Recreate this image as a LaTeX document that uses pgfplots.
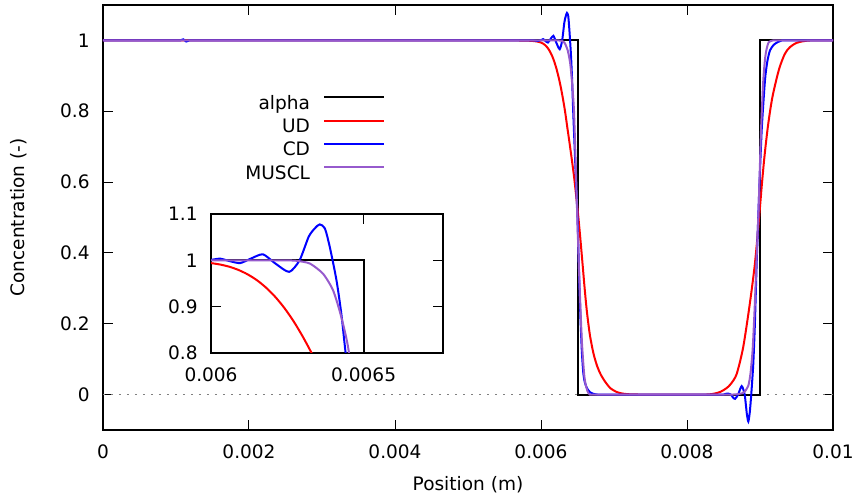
\documentclass[border=0pt]{standalone}
\usepackage{pgfplots}
\usepackage{pgfplotstable}
\pgfplotsset{compat=1.18}
\usepackage{fontspec}
\setmainfont{DejaVu Sans}
\definecolor{muscl}{RGB}{150,90,205}
\definecolor{udred}{RGB}{255,0,0}
\definecolor{cdblue}{RGB}{0,0,255}
\newcommand{\fs}{\fontsize{9.3}{11}\selectfont}

\pgfplotstableread{
x y
0 1
0.0065 1
0.0065 0
0.009 0
0.009 1
0.01 1
}\alphadata

\pgfplotstableread{
x y
0 1
0.002 1
0.004 1
0.005 1
0.0054 1
0.0056 0.9999
0.0058 0.9995
0.0059 0.9982
0.00594 0.9971
0.00597 0.9958
0.0060 0.994
0.00603 0.9909
0.00606 0.9862
0.00609 0.9792
0.00612 0.9697
0.00615 0.9573
0.00618 0.9412
0.00621 0.9214
0.00624 0.8974
0.00627 0.869
0.0063 0.836
0.00633 0.799
0.00636 0.755
0.00639 0.712
0.00642 0.667
0.00645 0.620
0.00648 0.565
0.00651 0.505
0.00654 0.438
0.00657 0.367
0.0066 0.295
0.00663 0.232
0.00667 0.168
0.00672 0.115
0.00677 0.080
0.00682 0.056
0.00688 0.036
0.00695 0.018
0.00703 0.008
0.0071 0.0035
0.0072 0.001
0.0074 0.0
0.0077 0.0
0.0080 0.0
0.0082 0.0
0.0083 0.0005
0.00838 0.003
0.00846 0.008
0.00854 0.018
0.0086 0.030
0.00868 0.058
0.00877 0.134
0.00886 0.256
0.00893 0.369
0.00898 0.48
0.00902 0.58
0.00906 0.67
0.00911 0.76
0.00917 0.84
0.00926 0.918
0.00934 0.962
0.00941 0.981
0.0095 0.993
0.0096 0.998
0.0097 1.0
0.0099 1.0
0.01 1.0
}\uddata

\pgfplotstableread{
x y
0 1
0.0005 1
0.0009 1
0.0010 1
0.00106 1
0.00110 1.003
0.00114 0.997
0.00118 1
0.00124 1
0.0013 1
0.0015 1
0.002 1
0.003 1
0.004 1
0.005 1
0.0055 1
0.0058 1
0.0059 1
0.00596 0.9985
0.0060 1.001
0.00603 1.0036
0.00606 0.9985
0.006095 0.994
0.00613 1.0036
0.00617 1.013
0.00621 0.9935
0.006256 0.975
0.00629 1.0
0.00632 1.051
0.00634 1.069
0.006356 1.0776
0.006373 1.069
0.006389 1.029
0.006411 0.957
0.006427 0.884
0.006441 0.80
0.00647 0.65
0.0065 0.50
0.00652 0.35
0.00654 0.22
0.00656 0.12
0.00658 0.06
0.0066 0.035
0.00663 0.018
0.00667 0.007
0.00672 0.002
0.00678 0.0
0.00686 0.0
0.0070 0.0
0.0072 0.0
0.0075 0.0
0.0080 0.0
0.0083 0.0
0.0084 0.0
0.00846 0.0
0.0085 0.0
0.00853 0.002
0.00856 0.003
0.0086 0.0
0.00863 -0.008
0.008658 -0.012
0.0087 0.0
0.008749 0.024
0.00879 0.0
0.00882 -0.055
0.00884 -0.076
0.00886 -0.05
0.00888 0.0
0.008908 0.087
0.00893 0.2
0.008954 0.369
0.008986 0.557
0.009023 0.746
0.009068 0.887
0.0091 0.94
0.009137 0.972
0.00919 0.988
0.00925 0.996
0.0093 1.0
0.0094 1.0
0.0096 1.0
0.0099 1.0
0.01 1.0
}\cddata

\pgfplotstableread{
x y
0 1
0.003 1
0.005 1
0.0058 1
0.0061 1
0.0062 1
0.00624 1
0.00628 0.999
0.006324 0.993
0.006367 0.971
0.0064 0.935
0.006427 0.877
0.006452 0.80
0.00648 0.62
0.0065 0.48
0.00653 0.30
0.00656 0.15
0.00659 0.06
0.00661 0.03
0.00664 0.008
0.00667 0.0
0.00672 0.0
0.0068 0.0
0.0069 0.0
0.0071 0.0
0.0075 0.0
0.0080 0.0
0.0083 0.0
0.0085 0.0
0.0086 0.0
0.00866 0.0005
0.00872 0.002
0.00876 0.004
0.00879 0.008
0.00884 0.025
0.00887 0.06
0.0089 0.13
0.00893 0.26
0.00896 0.42
0.00898 0.52
0.009014 0.746
0.009045 0.887
0.00907 0.95
0.00909 0.975
0.00912 0.995
0.00918 1.0
0.0093 1.0
0.0095 1.0
0.0099 1.0
0.01 1.0
}\muscldata

\begin{document}
\begin{tikzpicture}
\useasboundingbox (-51.5bp,-35bp) rectangle (378.5bp,215bp);
\begin{axis}[
  at={(0,0)}, anchor=south west,
  scale only axis, width=365bp, height=212.5bp,
  xmin=0, xmax=0.01, ymin=-0.1, ymax=1.1,
  scaled ticks=false,
  xtick={0,0.002,0.004,0.006,0.008,0.01},
  xticklabels={0,0.002,0.004,0.006,0.008,0.01},
  ytick={0,0.2,0.4,0.6,0.8,1},
  yticklabels={0,0.2,0.4,0.6,0.8,1},
  /pgf/number format/assume math mode=true,
  tick align=inside, major tick length=5bp,
  tick style={black, line width=0.5bp},
  axis line style={line width=0.6bp},
  xticklabel style={font=\fs, anchor=center, inner sep=0pt, yshift=-11bp},
  yticklabel style={font=\fs, anchor=east, inner sep=0pt, xshift=-6.5bp},
  label style={font=\fs},
  xlabel={Position (m)}, ylabel={Concentration (-)},
  xlabel style={at={(axis description cs:0.5,-0.1294)}, anchor=center},
  ylabel style={at={(axis description cs:-0.1158,0.5)}, anchor=center},
  legend plot pos=right,
  legend cell align=right,
  legend style={draw=none, fill=none, font=\fs, inner sep=0pt, outer sep=0pt,
    at={(axis description cs:0.3863,0.7880)}, anchor=north east,
    column sep=6.5bp, row sep=2.7bp,
    nodes={inner sep=0pt, text height=7bp, text depth=2bp}},
  legend image code/.code={\draw[#1] (0bp,0.35em) -- (30bp,0.35em);},
  every axis plot/.append style={line width=1bp},
]
\addplot[gray, line width=0.6bp, dash pattern=on 0.8bp off 3.2bp, forget plot] coordinates {(0,0) (0.01,0)};
\addplot[black] table {\alphadata};
\addlegendentry{alpha}
\addplot[udred, smooth, tension=0.45] table {\uddata};
\addlegendentry{UD}
\addplot[cdblue, smooth, tension=0.4] table {\cddata};
\addlegendentry{CD}
\addplot[muscl, smooth, tension=0.4] table {\muscldata};
\addlegendentry{MUSCL}
\end{axis}
\begin{axis}[
  at={(54bp,38.5bp)}, anchor=south west,
  scale only axis, width=116bp, height=69.5bp,
  xmin=0.006, xmax=0.00676, ymin=0.8, ymax=1.1,
  scaled ticks=false,
  xtick={0.006,0.0065}, xticklabels={0.006,0.0065},
  ytick={0.8,0.9,1,1.1}, yticklabels={0.8,0.9,1,1.1},
  /pgf/number format/assume math mode=true,
  tick align=inside, major tick length=5bp,
  tick style={black, line width=0.5bp},
  axis line style={line width=0.6bp},
  axis background/.style={fill=white},
  xticklabel style={font=\fs, anchor=center, inner sep=0pt, yshift=-11bp},
  yticklabel style={font=\fs, anchor=east, inner sep=0pt, xshift=-6.5bp},
  every axis plot/.append style={line width=1bp},
  clip=true,
]
\addplot[black] table {\alphadata};
\addplot[udred, smooth, tension=0.45] table {\uddata};
\addplot[cdblue, smooth, tension=0.4] table {\cddata};
\addplot[muscl, smooth, tension=0.4] table {\muscldata};
\end{axis}
\end{tikzpicture}
\end{document}
